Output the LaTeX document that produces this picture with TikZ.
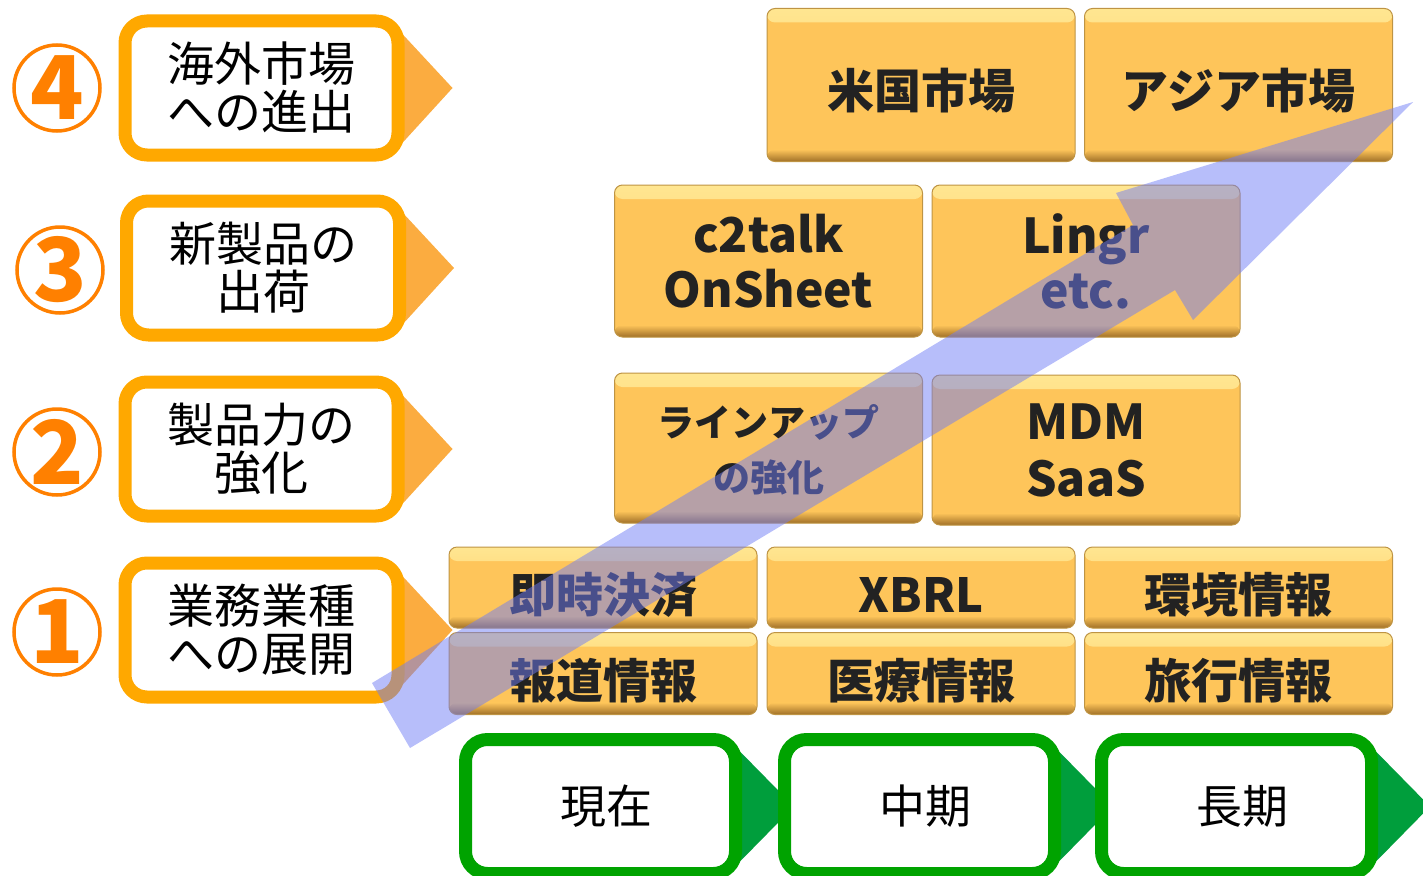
\documentclass[tikz,border=0pt]{standalone}
\usepackage{fontspec}
\setmainfont{Noto Sans CJK JP}
\usetikzlibrary{calc}
\definecolor{numorange}{RGB}{255,128,0}
\definecolor{lblorange}{RGB}{255,168,0}
\definecolor{lbltri}{RGB}{251,172,64}
\definecolor{goldfill}{RGB}{254,197,90}
\definecolor{goldhi}{RGB}{255,230,145}
\definecolor{golddk}{RGB}{160,112,40}
\definecolor{goldtext}{RGB}{34,34,34}
\definecolor{termgreen}{RGB}{0,163,0}
\definecolor{termtri}{RGB}{0,158,60}
\definecolor{trendblue}{RGB}{112,125,245}
\pgfdeclarelayer{background}
\pgfsetlayers{background,main}

\begin{document}
\begin{tikzpicture}[x=1pt,y=-1pt,
  numcirc/.style={circle,draw=numorange,line width=3.5pt,minimum size=86pt,inner sep=0pt,
    text=numorange,font=\fontsize{88}{90}\selectfont\bfseries},
  lblbox/.style={rounded corners=22pt,draw=lblorange,line width=13pt,fill=white,
    minimum width=273pt,minimum height=134pt,align=center,font=\fontsize{47}{48}\selectfont},
  goldbox/.style={rounded corners=8pt,draw=goldfill!75!black,line width=1pt,fill=goldfill,
    minimum width=308pt,align=center,text depth=0pt,text=goldtext,font=\fontsize{47}{55}\selectfont\bfseries,
    path picture={
      \shade[top color=goldhi,bottom color=goldfill] (path picture bounding box.north west)
        rectangle ($(path picture bounding box.north east)+(0,14)$);
      \shade[top color=goldfill,bottom color=golddk] ($(path picture bounding box.south west)+(0,-12)$)
        rectangle (path picture bounding box.south east);}},
  lowbox/.style={goldbox,text height=49pt},
  termbox/.style={rounded corners=22pt,draw=termgreen,line width=13pt,fill=white,
    minimum width=270pt,minimum height=134pt,font=\fontsize{46}{48}\selectfont,
    execute at begin node={\hspace*{12pt}}}]
\useasboundingbox (0,0) rectangle (1423,875);

\node[numcirc] (n4) at (57,88) {4};
\node[numcirc] (n3) at (60,270) {3};
\node[numcirc] (n2) at (57,452) {2};
\node[numcirc] (n1) at (57,632) {1};

\node[lblbox] (l4) at (261.5,88) {海外市場\\への進出};
\node[lblbox] (l3) at (263,268) {新製品の\\出荷};
\node[lblbox] (l2) at (261.5,449) {製品力の\\強化};
\node[lblbox] (l1) at (261.5,630) {業務業種\\への展開};

\node[goldbox,minimum height=153pt,text height=46pt] (us) at (921,85) {米国市場};
\node[goldbox,minimum height=153pt,text height=46pt] (asia) at (1238.5,85) {アジア市場};
\node[goldbox,minimum height=152pt,font=\fontsize{48}{55}\selectfont\bfseries] (c2talk) at (768.5,261) {c2talk\\OnSheet};
\node[goldbox,minimum height=152pt,font=\fontsize{48}{55}\selectfont\bfseries] (lingr) at (1086,261) {Lingr\\etc.};
\node[goldbox,minimum height=150pt,font=\fontsize{37}{55}\selectfont\bfseries] (lineup) at (768.5,448) {ラインアップ\\の強化};
\node[goldbox,minimum height=150pt,font=\fontsize{48}{57}\selectfont\bfseries] (mdm) at (1086,450) {MDM\\SaaS};
\node[lowbox,minimum height=81pt] (pay) at (603,587.5) {即時決済};
\node[lowbox,minimum height=81pt] (xbrl) at (921,587.5) {XBRL};
\node[lowbox,minimum height=81pt] (env) at (1238.5,587.5) {環境情報};
\node[lowbox,minimum height=82pt] (news) at (603,673.5) {報道情報};
\node[lowbox,minimum height=82pt] (med) at (921,673.5) {医療情報};
\node[lowbox,minimum height=82pt] (travel) at (1238.5,673.5) {旅行情報};

\node[termbox] (now) at (600.5,806.5) {現在};
\node[termbox] (mid) at (919.5,806.5) {中期};
\node[termbox] (long) at (1236.5,806.5) {長期};

\begin{pgfonlayer}{background}
\foreach \n in {l1,l2,l3,l4}
  \fill[lbltri] ($(\n.east)+(-4,-56)$) -- ($(\n.east)+(48,0)$) -- ($(\n.east)+(-4,57)$) -- cycle;
\foreach \n in {now,mid,long}
  \fill[termtri] ($(\n.east)+(-4,-57)$) -- ($(\n.east)+(52,0)$) -- ($(\n.east)+(-4,57)$) -- cycle;
\end{pgfonlayer}

\fill[trendblue,opacity=0.5] (372,683) -- (1133,225) -- (1116,193) -- (1413,102)
  -- (1193,320) -- (1175,290) -- (410,748) -- cycle;
\end{tikzpicture}
\end{document}
